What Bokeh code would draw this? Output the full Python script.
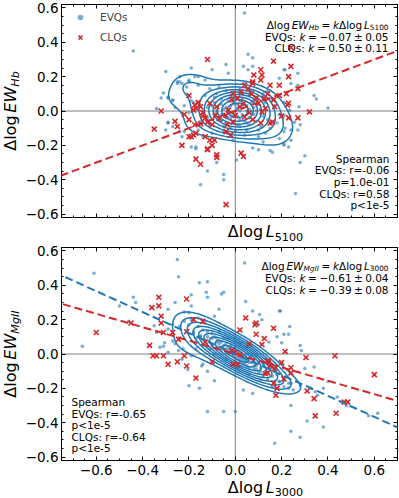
import numpy as np
from bokeh.plotting import figure
from bokeh.models import (Label, LinearAxis, FixedTicker, Range1d, Legend, LegendItem,
                          Span, Slope)
from bokeh.layouts import column, row
from bokeh.embed import file_html
from bokeh.resources import INLINE

# ---------------- data ----------------
# Top panel: Hb
evq_hb_outer = [(-0.44,0.35),(-0.30,0.23),(-0.32,0.075),(-0.29,0.08),(-0.27,0.06),(-0.25,0.17),(-0.24,0.17),
    (-0.19,0.25),(-0.20,0.17),(-0.21,0.14),(-0.16,0.20),(-0.19,0.06),(-0.26,0.02),(-0.34,0.015),(-0.24,-0.12),
    (-0.23,-0.15),(-0.17,-0.21),(-0.15,-0.43),(-0.29,-0.07),(-0.30,-0.11),(0.04,0.57),(0.40,0.017),(0.35,0.07),
    (0.26,-0.48),(-0.05,-0.37),(-0.05,-0.40),(-0.08,-0.30),(-0.12,-0.35),(0.24,-0.17),(0.23,-0.21),(0.21,-0.20),
    (0.21,-0.12),(0.27,-0.11),(0.28,-0.08),(0.15,-0.23),(0.16,-0.24),(0.12,-0.18),(0.30,-0.26),(0.28,-0.30),
    (0.34,0.09),(0.27,0.15),(0.24,0.16),(0.075,0.31),(0.055,0.33),(0.21,0.24),(-0.24,0.20),(-0.25,0.16),
    (-0.23,0.16),(-0.20,0.18),(-0.175,0.20),(-0.16,0.15),(-0.13,0.18),(-0.10,0.24),(-0.04,0.27),(-0.03,0.22),
    (0.035,0.26),(0.055,0.24),(0.075,0.26),(-0.29,0.075),(-0.27,0.065),(-0.29,-0.065),(-0.27,-0.09),(-0.22,-0.12),
    (-0.19,-0.21),(-0.17,-0.22),(0.005,-0.285),(0.075,-0.215),(0.10,-0.225),(0.19,-0.16),(0.21,-0.19),(0.24,-0.11),
    (0.255,-0.065),(0.215,-0.10),(0.21,-0.025),(0.235,0.005),(0.27,0.22),(0.215,0.24),(0.19,0.19),(0.275,0.025),
    (-0.31,0.105)]
evq_hb_core = [(0.01,0.02),(-0.03,-0.01),(0.05,0.03),(-0.06,0.04),(0.02,-0.05),(0.08,-0.02),(-0.09,-0.03),
    (0.03,0.07),(-0.02,0.09),(0.11,0.01),(-0.12,0.02),(0.06,-0.08),(-0.05,-0.09),(0.00,-0.12),(0.14,-0.05),
    (-0.15,-0.06),(0.09,0.08),(-0.08,0.10),(0.04,-0.14),(-0.10,-0.13),(0.12,0.10),(0.17,0.03),(-0.18,0.05),
    (0.02,0.13),(-0.04,0.12),(0.07,0.12),(-0.13,0.09),(0.15,-0.10),(-0.01,-0.17),(0.10,-0.15),(-0.16,-0.11),
    (0.19,-0.02),(-0.20,-0.01),(0.00,0.00),(0.03,-0.02),(-0.02,0.03),(0.05,0.00),(-0.05,0.01),(0.01,-0.03),
    (-0.01,0.05),(0.07,0.05),(-0.07,-0.05),(0.04,0.04),(-0.04,-0.04),(0.06,-0.04),(-0.06,0.07),(0.02,0.06),
    (-0.03,-0.07),(0.09,-0.06),(-0.09,0.05),(0.13,0.05),(-0.11,-0.08),(0.11,-0.09),(-0.14,0.00),(0.16,0.07),
    (-0.07,0.14),(0.05,-0.11),(-0.02,-0.10),(0.08,0.02),(-0.08,-0.01),(0.00,0.08),(0.01,-0.08),(0.10,0.04),
    (-0.10,0.03),(0.03,0.10),(-0.05,-0.12),(0.12,-0.03),(-0.12,-0.04),(0.06,0.09),(-0.06,-0.02),(0.02,0.00),
    (-0.01,-0.02),(0.04,-0.06),(-0.03,0.06),(0.07,-0.01),(-0.04,0.02),(0.00,0.04),(0.02,-0.09),(-0.08,0.00),
    (0.09,0.00),(0.14,0.12),(-0.17,-0.08),(0.18,-0.07),(-0.11,0.13),(0.04,0.16),(-0.02,-0.14),(0.13,-0.13),
    (-0.14,-0.15),(0.21,0.05),(-0.22,0.03),(0.01,0.01),(-0.02,-0.04),(0.03,0.03),(0.05,-0.07),(-0.06,-0.06),
    (0.08,0.06),(-0.09,0.08),(0.10,-0.11),(-0.01,0.11),(0.06,0.01)]
clq_hb = [(-0.35,-0.105),(-0.32,0.0),(-0.26,-0.06),(-0.25,-0.09),(-0.23,-0.20),(-0.20,0.09),(-0.22,-0.02),
    (-0.20,-0.05),(-0.20,-0.15),(-0.18,-0.14),(-0.17,-0.13),(-0.17,-0.28),(-0.15,-0.31),(-0.18,0.005),
    (-0.175,-0.08),(-0.15,-0.075),(-0.14,-0.03),(-0.17,0.015),(-0.175,0.035),(-0.16,0.05),(-0.15,0.025),
    (-0.14,-0.01),(-0.13,-0.04),(-0.12,-0.065),(-0.11,0.045),(-0.10,-0.08),(-0.085,-0.025),(-0.08,0.025),
    (-0.07,-0.045),(-0.19,-0.15),(-0.13,-0.15),(-0.11,-0.17),(-0.12,-0.22),(-0.10,-0.20),(-0.08,-0.27),
    (-0.04,-0.12),(-0.035,-0.08),(-0.02,-0.14),(-0.04,-0.025),(-0.03,0.005),(-0.015,0.065),(-0.01,0.10),
    (0.01,0.075),(0.02,0.025),(0.035,0.045),(0.025,0.11),(0.055,0.13),(0.07,0.10),(0.075,0.16),(0.08,0.21),
    (0.115,0.21),(0.11,0.24),(0.09,0.075),(0.10,0.045),(0.125,0.075),(0.13,0.015),(0.14,0.10),(0.115,-0.005),
    (0.15,0.15),(0.165,0.065),(0.17,0.025),(0.19,0.15),(0.19,0.09),(0.22,0.10),(0.23,0.045),(0.23,0.20),
    (0.24,0.26),(0.27,0.13),(0.23,-0.04),(0.15,-0.07),(0.11,-0.07),(0.075,-0.05),(0.06,-0.01),(0.04,-0.035),
    (0.0,-0.025),(-0.01,-0.065),(0.025,-0.245),(0.035,-0.265),(0.27,-0.04),(-0.12,0.30),(0.165,0.29),
    (0.24,0.37),(0.32,-0.005),(0.225,0.035),(0.20,-0.03),(0.16,-0.065),(-0.04,-0.545),(-0.08,-0.255),
    (-0.12,-0.225),(-0.09,-0.17),(0.04,0.15),(0.11,0.18),(0.075,0.17)]

# Bottom panel: MgII
evq_mg_outer = [(-0.61,0.47),(-0.66,0.045),(-0.44,0.33),(-0.43,0.30),(-0.50,0.28),(-0.46,0.19),(-0.25,0.55),
    (-0.245,0.45),(-0.26,0.30),(-0.29,0.26),(-0.31,0.045),(-0.325,0.04),(-0.34,0.125),(-0.35,0.165),(-0.29,0.145),
    (-0.29,0.01),(-0.27,0.17),(-0.22,0.245),(-0.20,0.24),(-0.19,0.345),(-0.155,0.415),(-0.18,0.13),(-0.15,0.105),
    (-0.17,0.03),(-0.19,-0.01),(-0.23,-0.03),(-0.225,0.03),(-0.205,-0.09),(-0.245,0.02),(-0.27,0.075),
    (-0.305,0.065),(-0.19,0.28),(-0.14,-0.06),(-0.155,-0.20),(-0.20,-0.185),(0.04,0.53),(0.045,0.305),
    (0.195,0.25),(0.28,0.05),(0.285,0.02),(0.34,-0.075),(0.30,-0.085),(0.24,-0.30),(0.28,-0.485),(0.24,-0.45),
    (0.17,-0.52),(0.38,-0.425),(0.31,-0.39),(0.575,-0.36),(0.615,-0.345),(-0.05,-0.335),(0.0,-0.335),
    (-0.12,-0.335),(0.345,-0.22),(0.355,-0.24),(0.44,-0.25),(0.48,-0.30),(0.28,-0.185),(0.25,-0.21),
    (0.23,-0.20),(0.19,-0.16),(0.21,0.115),(0.235,0.16),(0.20,0.065),(0.18,0.10),(0.145,0.07),(0.10,0.17),
    (0.105,0.23),(0.075,0.25),(0.115,0.20),(-0.07,0.26),(-0.09,0.22),(-0.05,0.36),(-0.12,0.42),(-0.125,0.36),
    (0.40,-0.16),(0.38,-0.20),(0.325,-0.20),(-0.12,0.33),(-0.06,0.35),(0.19,0.25),(0.23,0.115),(0.24,-0.17),
    (0.035,-0.21),(0.075,-0.23),(-0.09,-0.155),(-0.12,-0.10),(-0.145,-0.07),(-0.26,0.06)]
evq_mg_core = [(-0.20,0.17),(-0.18,0.12),(-0.16,0.16),(-0.15,0.10),(-0.14,0.14),(-0.13,0.08),(-0.12,0.13),
    (-0.11,0.07),(-0.10,0.12),(-0.10,0.05),(-0.09,0.10),(-0.08,0.04),(-0.08,0.09),(-0.07,0.08),(-0.06,0.02),
    (-0.06,0.07),(-0.05,0.05),(-0.05,0.09),(-0.04,0.01),(-0.04,0.06),(-0.03,0.04),(-0.03,0.00),(-0.02,0.05),
    (-0.02,0.01),(-0.01,0.03),(-0.01,-0.01),(0.00,0.02),(0.00,-0.02),(0.00,0.04),(0.01,0.00),(0.01,-0.03),
    (0.02,0.01),(0.02,-0.04),(0.03,-0.01),(0.03,-0.05),(0.04,-0.02),(0.04,-0.06),(0.05,0.00),(0.05,-0.07),
    (0.06,-0.03),(0.06,-0.08),(0.07,-0.05),(0.07,-0.01),(0.08,-0.09),(0.08,-0.04),(0.09,-0.07),(0.10,-0.11),
    (0.10,-0.05),(0.11,-0.08),(0.12,-0.13),(0.12,-0.06),(0.13,-0.10),(0.14,-0.15),(0.15,-0.09),(0.16,-0.13),
    (0.17,-0.17),(0.18,-0.12),(0.19,-0.16),(0.21,-0.19),(0.23,-0.17),(-0.22,0.19),(-0.24,0.16),(-0.19,0.20),
    (-0.17,0.09),(-0.13,0.18),(-0.11,0.03),(-0.07,0.13),(-0.03,0.09),(0.02,0.06),(0.05,0.04),(0.09,-0.01),
    (0.13,-0.05),(0.16,-0.19),(0.11,-0.15),(0.06,-0.12),(0.01,-0.08),(-0.04,-0.03),(-0.09,0.00),(-0.14,0.05),
    (-0.16,0.21),(0.00,0.00),(-0.02,0.03),(0.02,-0.02),(0.03,-0.03),(-0.03,0.02),(0.04,-0.04),(-0.04,0.03),
    (0.01,0.02),(-0.01,0.00),(0.05,-0.04),(-0.06,0.04),(0.06,-0.05),(-0.07,0.06),(0.08,-0.07),(-0.08,0.07),
    (0.09,-0.09),(-0.10,0.09),(0.11,-0.10),(-0.12,0.10),(0.14,-0.11)]
clq_mg = [(-0.60,0.125),(-0.45,0.18),(-0.36,0.27),(-0.33,0.33),(-0.33,0.28),(-0.32,0.22),(-0.32,0.18),
    (-0.31,0.125),(-0.27,0.125),(-0.37,0.05),(-0.355,-0.01),(-0.34,-0.01),(-0.31,-0.01),(-0.29,-0.06),
    (-0.25,-0.045),(-0.245,0.085),(-0.22,-0.01),(-0.21,-0.07),(-0.21,0.13),(-0.21,0.32),(-0.17,-0.14),
    (-0.14,0.19),(-0.18,0.20),(-0.13,0.07),(-0.10,-0.045),(-0.015,0.02),(0.02,-0.005),(-0.01,-0.06),
    (0.01,-0.06),(0.045,0.21),(0.02,0.14),(0.085,0.17),(0.09,0.18),(0.09,0.115),(0.125,0.09),(0.115,0.055),
    (0.165,0.15),(0.06,0.06),(0.14,-0.04),(0.15,-0.07),(0.17,-0.085),(0.14,-0.11),(0.20,-0.05),(0.215,0.015),
    (0.24,-0.08),(0.24,-0.11),(0.165,-0.17),(0.18,-0.20),(0.21,-0.145),(0.175,-0.24),(0.305,-0.02),
    (0.43,-0.01),(0.60,-0.12),(0.31,-0.215),(0.34,-0.26),(0.345,-0.36),(0.435,-0.345),(0.47,-0.28),
    (0.485,-0.28),(0.0,0.01),(0.13,-0.115),(0.145,-0.045)]

# fit slopes k (intercepts ~0)
k_hb_clq = 0.50
k_mg_evq, k_mg_clq = -0.61, -0.39
b_hb_clq, b_mg_evq, b_mg_clq = 0.0, 0.0, 0.0

tick_vals = [-0.6, -0.4, -0.2, 0.0, 0.2, 0.4, 0.6]
tick_text = ["\u22120.6", "\u22120.4", "\u22120.2", "0.0", "0.2", "0.4", "0.6"]

# ---------------- style / layout ----------------
BLUE = "#1f77b4"
RED = "#d62728"
FONT = "DejaVu Sans"
XR, YR = (-0.75, 0.7), (-0.62, 0.62)
YLW = 22                 # width of y-label strip
BL, BR = 36, 5           # panel borders
FW = 336
FH1, FH2 = 213, 213
TOP1, BOT1, XL1 = 4, 5, 21
TOP2, BOT2, XL2 = 4, 19, 19
STRIP_BG = "white"

WID = {' ':0.318,'\u0394':0.684,'l':0.278,'o':0.612,'g':0.635,'E':0.632,'W':0.989,'H':0.752,'b':0.635,
       'L':0.557,'M':0.863,'I':0.295,'k':0.579,'=':0.838,'\u2212':0.838,'\u00b1':0.838,'.':0.318,
       'V':0.684,'Q':0.787,'s':0.521,'C':0.698,':':0.337}
for d in "0123456789":
    WID[d] = 0.636


def twidth(s, size):
    return sum(WID.get(c, 0.6) for c in s) * size


def rich(p, segs, x, y, size, align="left", angle=0.0, baseline="alphabetic"):
    parts, total = [], 0.0
    for s in segs:
        if s[0] is None:
            w = s[1] * size
            parts.append((None, 0, 0, size, w))
        else:
            t, it, sub = s
            fs = size * 0.7 if sub else size
            w = twidth(t, fs)
            parts.append((t, it, sub, fs, w))
        total += w
    start = x if angle == 0 else y
    if align == "right":
        start -= total
    elif align == "center":
        start -= total / 2
    pos = start
    sub_drop = 0.22 if baseline == "alphabetic" else 0.30
    for t, it, sub, fs, w in parts:
        if t is not None:
            shift = sub_drop * size if sub else 0.0
            if angle == 0:
                lx, ly = pos, y - shift
            else:
                lx, ly = x + shift, pos
            p.add_layout(Label(x=lx, y=ly, x_units="screen", y_units="screen", text=t,
                               text_font=FONT, text_font_size=f"{fs:.2f}px",
                               text_font_style="italic" if it else "normal",
                               text_align="left", text_baseline=baseline, angle=angle,
                               text_color="black"))
        pos += w


def plain(p, txt, x, y, size, align):
    p.add_layout(Label(x=x, y=y, x_units="screen", y_units="screen", text=txt, text_font=FONT,
                       text_font_size=f"{size}px", text_align=align, text_baseline="alphabetic",
                       text_color="black"))


def kde(pts, full_cov=True):
    xs = np.array([q[0] for q in pts]); ys = np.array([q[1] for q in pts])
    n = len(xs)
    cov = np.cov(np.vstack([xs, ys])) * n ** (-1.0 / 3.0)
    if not full_cov:
        cov = np.diag(np.diag(cov))
    inv = np.linalg.inv(cov)
    xg = np.linspace(XR[0], XR[1], 160); yg = np.linspace(YR[0], YR[1], 160)
    X, Y = np.meshgrid(xg, yg)
    dx = X[..., None] - xs[None, None, :]
    dy = Y[..., None] - ys[None, None, :]
    q = inv[0, 0] * dx * dx + 2 * inv[0, 1] * dx * dy + inv[1, 1] * dy * dy
    Z = np.exp(-0.5 * q).sum(-1)
    return X, Y, Z


def make_fig(fh, show_xticklabels, top, bottom):
    p = figure(frame_width=FW, frame_height=fh, x_range=Range1d(*XR), y_range=Range1d(*YR),
               output_backend="svg", toolbar_location=None, x_axis_location=None,
               y_axis_location=None, min_border_left=BL, min_border_right=BR,
               min_border_top=top, min_border_bottom=bottom, background_fill_color="white",
               border_fill_color="white")
    p.outline_line_color = "black"
    p.grid.visible = False
    minor = [round(v, 2) for v in np.arange(-0.75, 0.701, 0.05)]
    for loc in ["left", "right", "above", "below"]:
        ax = LinearAxis(ticker=FixedTicker(ticks=tick_vals, minor_ticks=minor))
        ax.major_tick_in, ax.major_tick_out = 4, 0
        ax.minor_tick_in, ax.minor_tick_out = 2, 0
        ax.axis_line_color = "black"
        ax.major_tick_line_color = "black"
        ax.minor_tick_line_color = "black"
        ax.major_label_text_font = FONT
        ax.major_label_text_font_size = "13.5px"
        ax.major_label_text_color = "black"
        ax.major_label_standoff = 3 if loc == "left" else 4
        if loc in ("right", "above") or (loc == "below" and not show_xticklabels):
            ax.major_label_overrides = {v: "" for v in tick_vals}
            ax.major_label_text_font_size = "0px"
            ax.major_label_standoff = 0
        else:
            ax.major_label_overrides = dict(zip(tick_vals, tick_text))
        p.add_layout(ax, loc)
    p.add_layout(Span(location=0, dimension="width", line_color="gray", line_width=1, level="underlay"))
    p.add_layout(Span(location=0, dimension="height", line_color="gray", line_width=1, level="underlay"))
    return p


def strip(w, h):
    f = figure(width=w, height=h, x_range=Range1d(0, 1), y_range=Range1d(0, 1), output_backend="svg",
               toolbar_location=None, min_border=0, x_axis_location=None, y_axis_location=None,
               background_fill_color=STRIP_BG, border_fill_color=STRIP_BG)
    f.outline_line_color = None
    f.grid.visible = False
    return f


G = lambda w: (None, w)
S = 10.5

# ---------------- top panel ----------------
p1 = make_fig(FH1, False, TOP1, BOT1)
ev1 = evq_hb_outer + evq_hb_core
r_ev1 = p1.scatter([q[0] for q in ev1], [q[1] for q in ev1], size=3.5, marker="circle",
                   fill_color=BLUE, fill_alpha=0.6, line_color=None)
X, Y, Z = kde(ev1, full_cov=False)
p1.contour(x=X, y=Y, z=Z, levels=list(Z.max() * np.linspace(0.3, 0.93, 9)), line_color=BLUE, line_width=1.5)
r_cl1 = p1.scatter([q[0] for q in clq_hb], [q[1] for q in clq_hb], size=7, marker="x",
                   line_color=RED, line_width=1.6)
p1.add_layout(Slope(gradient=k_hb_clq, y_intercept=b_hb_clq, line_color=RED, line_width=2,
                    line_dash="8 4"))
leg = Legend(items=[LegendItem(label="EVQs", renderers=[r_ev1]), LegendItem(label="CLQs", renderers=[r_cl1])],
             location="top_left", margin=2, padding=4, glyph_width=26, glyph_height=14,
             label_height=14, spacing=6, label_standoff=7, label_text_font=FONT,
             label_text_font_size="10.5px", border_line_alpha=0, background_fill_alpha=0)
p1.add_layout(leg)

rich(p1, [("\u0394log", 0, 0), G(0.17), ("EW", 1, 0), ("Hb", 1, 1), G(0.25), ("=", 0, 0), G(0.25),
          ("k", 1, 0), ("\u0394log", 0, 0), G(0.17), ("L", 1, 0), ("5100", 0, 1)], FW - 9, FH1 - 20.5, S, "right")
rich(p1, [("EVQs:", 0, 0), G(0.318), ("k", 1, 0), G(0.25), ("=", 0, 0), G(0.25), ("\u22120.07", 0, 0),
          G(0.22), ("\u00b1", 0, 0), G(0.22), ("0.05", 0, 0)], FW - 9, FH1 - 32, S, "right")
rich(p1, [("CLQs:", 0, 0), G(0.318), ("k", 1, 0), G(0.25), ("=", 0, 0), G(0.25), ("0.50", 0, 0),
          G(0.22), ("\u00b1", 0, 0), G(0.22), ("0.11", 0, 0)], FW - 9, FH1 - 43.5, S, "right")
for i, t in enumerate(["Spearman", "EVQs: r=-0.06", "p=1.0e-01", "CLQs: r=0.58", "p<1e-5"]):
    plain(p1, t, FW - 8, 59 - 11.7 * i, S, "right")

xl1 = strip(BL + FW + BR, XL1)
rich(xl1, [("\u0394log", 0, 0), G(0.17), ("L", 1, 0), ("5100", 0, 1)], BL + FW / 2, 11.6, 16, "center",
     baseline="middle")

# ---------------- bottom panel ----------------
p2 = make_fig(FH2, True, TOP2, BOT2)
ev2 = evq_mg_outer + evq_mg_core
p2.scatter([q[0] for q in ev2], [q[1] for q in ev2], size=3.5, marker="circle",
           fill_color=BLUE, fill_alpha=0.6, line_color=None)
X, Y, Z = kde(ev2, full_cov=True)
p2.contour(x=X, y=Y, z=Z, levels=list(Z.max() * np.linspace(0.25, 0.93, 9)), line_color=BLUE, line_width=1.5)
p2.scatter([q[0] for q in clq_mg], [q[1] for q in clq_mg], size=7, marker="x",
           line_color=RED, line_width=1.6)
p2.add_layout(Slope(gradient=k_mg_evq, y_intercept=b_mg_evq, line_color=BLUE, line_width=2, line_dash="8 4"))
p2.add_layout(Slope(gradient=k_mg_clq, y_intercept=b_mg_clq, line_color=RED, line_width=2, line_dash="8 4"))

rich(p2, [("\u0394log", 0, 0), G(0.17), ("EW", 1, 0), ("MgII", 1, 1), G(0.25), ("=", 0, 0), G(0.25),
          ("k", 1, 0), ("\u0394log", 0, 0), G(0.17), ("L", 1, 0), ("3000", 0, 1)], FW - 9, FH2 - 18.5, S, "right")
rich(p2, [("EVQs:", 0, 0), G(0.318), ("k", 1, 0), G(0.25), ("=", 0, 0), G(0.25), ("\u22120.61", 0, 0),
          G(0.22), ("\u00b1", 0, 0), G(0.22), ("0.04", 0, 0)], FW - 9, FH2 - 30.5, S, "right")
rich(p2, [("CLQs:", 0, 0), G(0.318), ("k", 1, 0), G(0.25), ("=", 0, 0), G(0.25), ("\u22120.39", 0, 0),
          G(0.22), ("\u00b1", 0, 0), G(0.22), ("0.08", 0, 0)], FW - 9, FH2 - 42, S, "right")
for i, t in enumerate(["Spearman", "EVQs: r=-0.65", "p<1e-5", "CLQs: r=-0.64", "p<1e-5"]):
    plain(p2, t, 10, 58.5 - 11.6 * i, S, "left")

xl2 = strip(BL + FW + BR, XL2)
rich(xl2, [("\u0394log", 0, 0), G(0.17), ("L", 1, 0), ("3000", 0, 1)], BL + FW / 2, 11.5, 16, "center",
     baseline="middle")

# ---------------- y-label strips ----------------
h1 = TOP1 + FH1 + BOT1 + XL1
yl1 = strip(YLW, h1)
rich(yl1, [("\u0394log", 0, 0), G(0.17), ("EW", 1, 0), ("Hb", 1, 1)], 10, XL1 + BOT1 + FH1 / 2, 16,
     "center", angle=np.pi / 2, baseline="middle")
h2 = TOP2 + FH2 + BOT2 + XL2
yl2 = strip(YLW, h2)
rich(yl2, [("\u0394log", 0, 0), G(0.17), ("EW", 1, 0), ("MgII", 1, 1)], 10, XL2 + BOT2 + FH2 / 2, 16,
     "center", angle=np.pi / 2, baseline="middle")

layout = row(column(yl1, yl2, spacing=0), column(p1, xl1, p2, xl2, spacing=0), spacing=0)
open("out.html", "w").write(file_html(layout, INLINE))
